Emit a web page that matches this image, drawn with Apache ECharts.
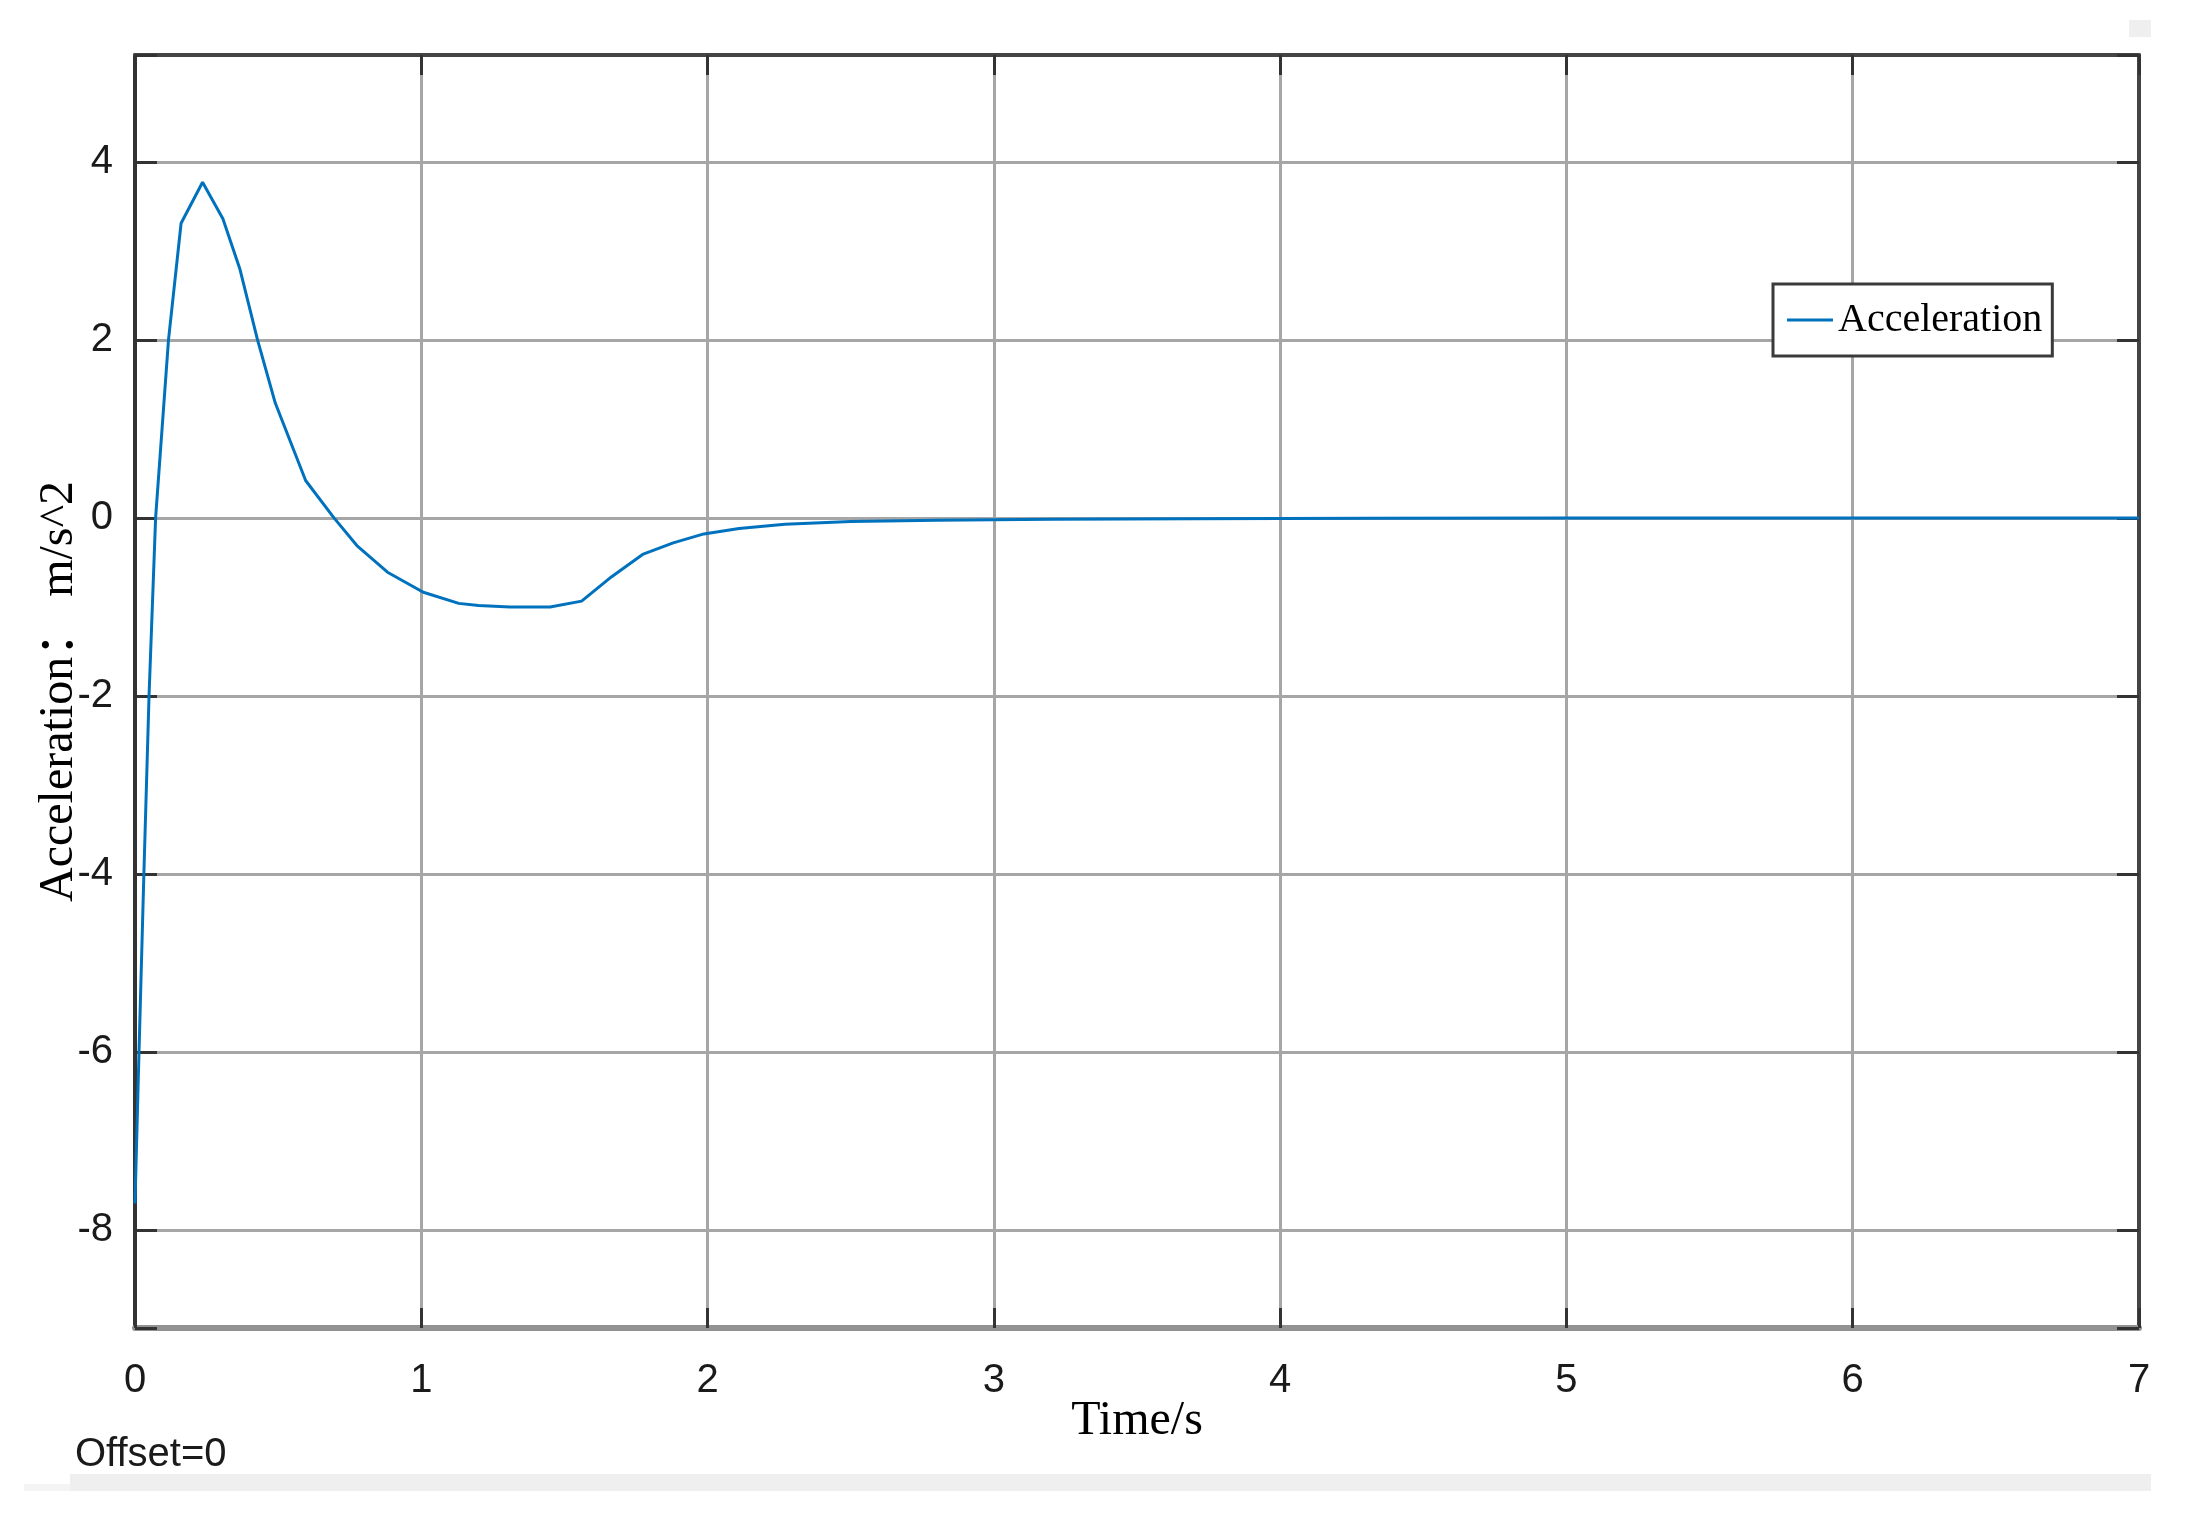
<!DOCTYPE html>
<html>
<head>
<meta charset="utf-8">
<title>Acceleration</title>
<script src="https://cdn.jsdelivr.net/npm/echarts@6/dist/echarts.min.js"></script>
<style>
  html, body { margin: 0; padding: 0; background: #fff; }
  #myChart { width: 2186px; height: 1520px; }
</style>
</head>
<body>
<div id="myChart"></div>
<script>
  // time in s
  var timeData = [0, 0.014, 0.031, 0.049, 0.072, 0.117, 0.161, 0.236, 0.307, 0.366,
    0.428, 0.49, 0.596, 0.695, 0.775, 0.882, 1.007, 1.131, 1.2, 1.31, 1.45, 1.56,
    1.665, 1.773, 1.88, 1.987, 2.11, 2.27, 2.5, 2.8, 3.2, 3.7, 4.3, 5, 6, 7];
  // acceleration in m/s^2
  var accelData = [-7.7, -6, -4, -2, 0, 2, 3.31, 3.77, 3.36, 2.8,
    2.0, 1.29, 0.42, 0, -0.31, -0.61, -0.835, -0.96, -0.985, -1.0, -1.0, -0.935,
    -0.66, -0.41, -0.28, -0.18, -0.12, -0.07, -0.04, -0.025, -0.015, -0.01, -0.005, 0, 0, 0];

  var seriesName = 'Acceleration';
  var xTitle = 'Time/s';
  var yTitle = 'Acceleration\uff1a m/s^2';
  var footNote = 'Offset=0';

  var points = timeData.map(function (t, i) { return [t, accelData[i]]; });

  var labelFont = { fontFamily: 'Liberation Sans, Arial, sans-serif', fontSize: 40, color: '#1a1a1a' };
  var serif = 'Liberation Serif, Times New Roman, Noto Sans CJK SC, serif';

  var myChart = echarts.init(document.getElementById('myChart'));

  myChart.setOption({
    backgroundColor: '#fff',
    animation: false,
    grid: {
      left: 135, right: 47, top: 55, bottom: 192,
      show: true, borderWidth: 0, backgroundColor: '#fff'
    },
    legend: {
      data: [seriesName],
      left: 1773, top: 284,
      orient: 'vertical',
      icon: 'rect',
      itemWidth: 46, itemHeight: 3,
      padding: [16, 10, 16, 14],
      borderColor: '#3a3a3a', borderWidth: 3,
      backgroundColor: '#fff',
      textStyle: { fontFamily: serif, fontSize: 40, color: '#000' }
    },
    xAxis: [
      {
        type: 'value', min: 0, max: 7, interval: 1,
        name: xTitle, nameLocation: 'middle', nameGap: 69, nameMoveOverlap: false,
        nameTextStyle: { fontFamily: serif, fontSize: 48, color: '#000' },
        axisLine: { onZero: false, lineStyle: { color: '#929292', width: 6 } },
        axisTick: { inside: true, length: 20, lineStyle: { color: '#333', width: 3 } },
        axisLabel: Object.assign({ margin: 33 }, labelFont),
        splitLine: { show: true, lineStyle: { color: '#a6a6a6', width: 3 } }
      },
      {
        type: 'value', min: 0, max: 7, interval: 1, position: 'top',
        axisLine: { onZero: false, lineStyle: { color: '#444', width: 4 } },
        axisTick: { inside: true, length: 20, lineStyle: { color: '#333', width: 3 } },
        axisLabel: { show: false },
        splitLine: { show: false }
      }
    ],
    yAxis: [
      {
        type: 'value', min: -9.1, max: 5.2, splitNumber: 7, minInterval: 2, maxInterval: 2,
        name: yTitle, nameLocation: 'middle', nameGap: 52, nameMoveOverlap: false,
        nameTextStyle: { fontFamily: serif, fontSize: 48, color: '#000' },
        axisLine: { show: true, onZero: false, lineStyle: { color: '#333', width: 4 } },
        axisTick: { show: true, inside: true, length: 22, lineStyle: { color: '#333', width: 3 } },
        axisLabel: Object.assign({
          margin: 22,
          formatter: function (v) { return v % 2 === 0 ? String(v) : ''; }
        }, labelFont),
        splitLine: { show: true, lineStyle: { color: '#a6a6a6', width: 3 } }
      },
      {
        type: 'value', min: -9.1, max: 5.2, splitNumber: 7, minInterval: 2, maxInterval: 2,
        position: 'right',
        axisLine: { show: true, onZero: false, lineStyle: { color: '#444', width: 4 } },
        axisTick: { show: true, inside: true, length: 22, lineStyle: { color: '#333', width: 3 } },
        axisLabel: { show: false },
        splitLine: { show: false }
      }
    ],
    series: [{
      name: seriesName,
      type: 'line',
      data: points,
      showSymbol: false,
      symbol: 'none',
      smooth: false,
      color: '#0072BD',
      lineStyle: { color: '#0072BD', width: 3 }
    }],
    graphic: [
      {
        type: 'text', left: 75, top: 1435,
        style: { text: footNote, font: '40px Liberation Sans, Arial, sans-serif', fill: '#1a1a1a' }
      },
      { type: 'rect', shape: { x: 70, y: 1474, width: 2081, height: 17 }, style: { fill: '#efefef' } },
      { type: 'rect', shape: { x: 24, y: 1484, width: 46, height: 7 }, style: { fill: '#f4f4f4' } },
      { type: 'rect', shape: { x: 2129, y: 20, width: 22, height: 17 }, style: { fill: '#efefef' } }
    ]
  });
</script>
</body>
</html>
